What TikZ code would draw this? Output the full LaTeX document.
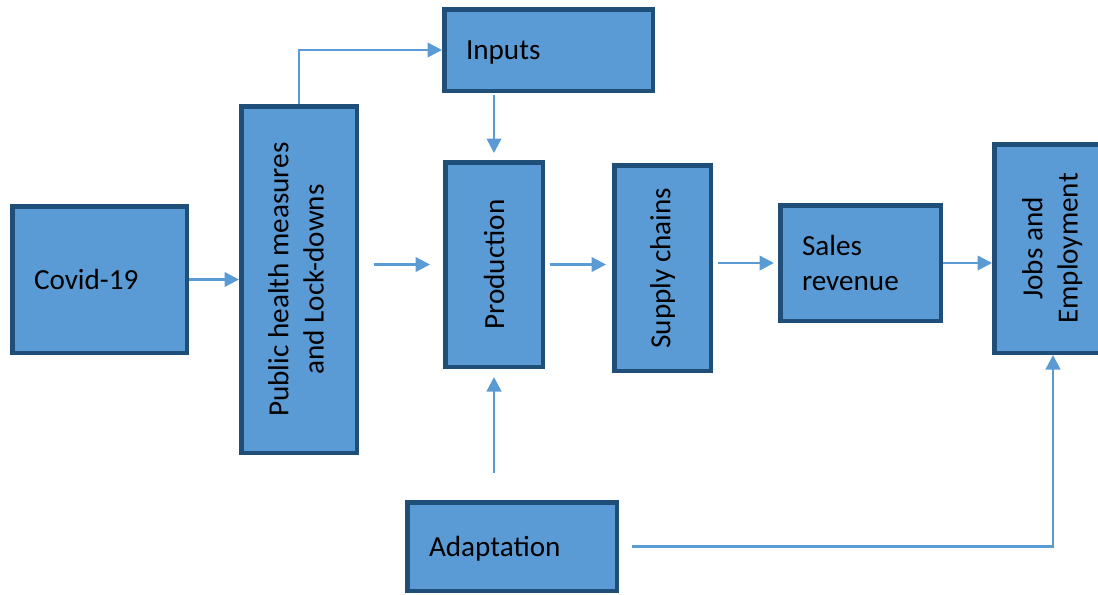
\documentclass[tikz,border=0pt]{standalone}
\usepackage{fontspec}
\setmainfont{Carlito}
\usepackage{graphicx}
\usetikzlibrary{arrows.meta}
\definecolor{boxfill}{HTML}{5B9BD5}
\definecolor{boxline}{HTML}{1F4E79}
\definecolor{flowline}{HTML}{5B9BD5}

\begin{document}
\begin{tikzpicture}[y=-1cm,
  box/.style={draw=boxline, fill=boxfill, line width=0.09cm, inner sep=0pt,
    font=\fontsize{16.6}{20}\selectfont},
  leftbox/.style={box, align=left, inner xsep=0.435cm, text depth=0pt},
  upbox/.style={box, align=center},
  flow/.style={draw=flowline, line width=0.05cm, -{Triangle[length=0.29cm,width=0.29cm]}}]

\clip (0,0) rectangle (21.96,11.88);

% boxes:
\node[leftbox, minimum width=3.49cm, minimum height=2.93cm, text width=2.62cm] (covid) at (1.99,5.59) {Covid-19};
\node[upbox, minimum width=2.31cm, minimum height=6.93cm] (pub) at (5.98,5.59)
  {\rotatebox{90}{\begin{tabular}{@{}c@{}}Public health measures\\and Lock-downs\end{tabular}}};
\node[leftbox, minimum width=4.17cm, minimum height=1.63cm, text width=3.30cm] (inputs) at (10.97,1.0) {Inputs};
\node[upbox, minimum width=1.95cm, minimum height=4.09cm] (prod) at (9.88,5.29) {\rotatebox{90}{Production}};
\node[upbox, minimum width=1.93cm, minimum height=4.11cm] (supply) at (13.25,5.36) {\rotatebox{90}{Supply chains}};
\node[leftbox, text depth={}, minimum width=3.21cm, minimum height=2.31cm, text width=2.34cm] (sales) at (17.21,5.26) {Sales\\revenue};
\node[upbox, minimum width=2.35cm, minimum height=4.17cm] (jobs) at (21.06,4.97)
  {\rotatebox{90}{\begin{tabular}{@{}c@{}}Jobs and\\Employment\end{tabular}}};
\node[leftbox, minimum width=4.19cm, minimum height=1.77cm, text width=3.32cm] (adapt) at (10.24,10.93) {Adaptation};

% arrows:
\draw[flow] (covid.east) -- (covid.east -| pub.west);
\draw[flow] (pub.north) |- (inputs.west);
\draw[flow, shorten <=0.04cm, shorten >=0.14cm] (prod.north |- inputs.south) -- (prod.north);
\draw[flow, shorten <=0.3cm, shorten >=0.26cm] (pub.east |- prod.west) -- (prod.west);
\draw[flow, shorten <=0.1cm, shorten >=0.12cm] (prod.east) -- (prod.east -| supply.west);
\draw[flow, shorten <=0.1cm, shorten >=0.08cm] (sales.west -| supply.east) -- (sales.west);
\draw[flow] (sales.east) -- (sales.east -| jobs.west);
\draw[flow, shorten <=0.54cm, shorten >=0.16cm] (prod.south |- adapt.north) -- (prod.south);
\draw[flow, shorten <=0.26cm] (adapt.east) -| (jobs.south);

\end{tikzpicture}
\end{document}
